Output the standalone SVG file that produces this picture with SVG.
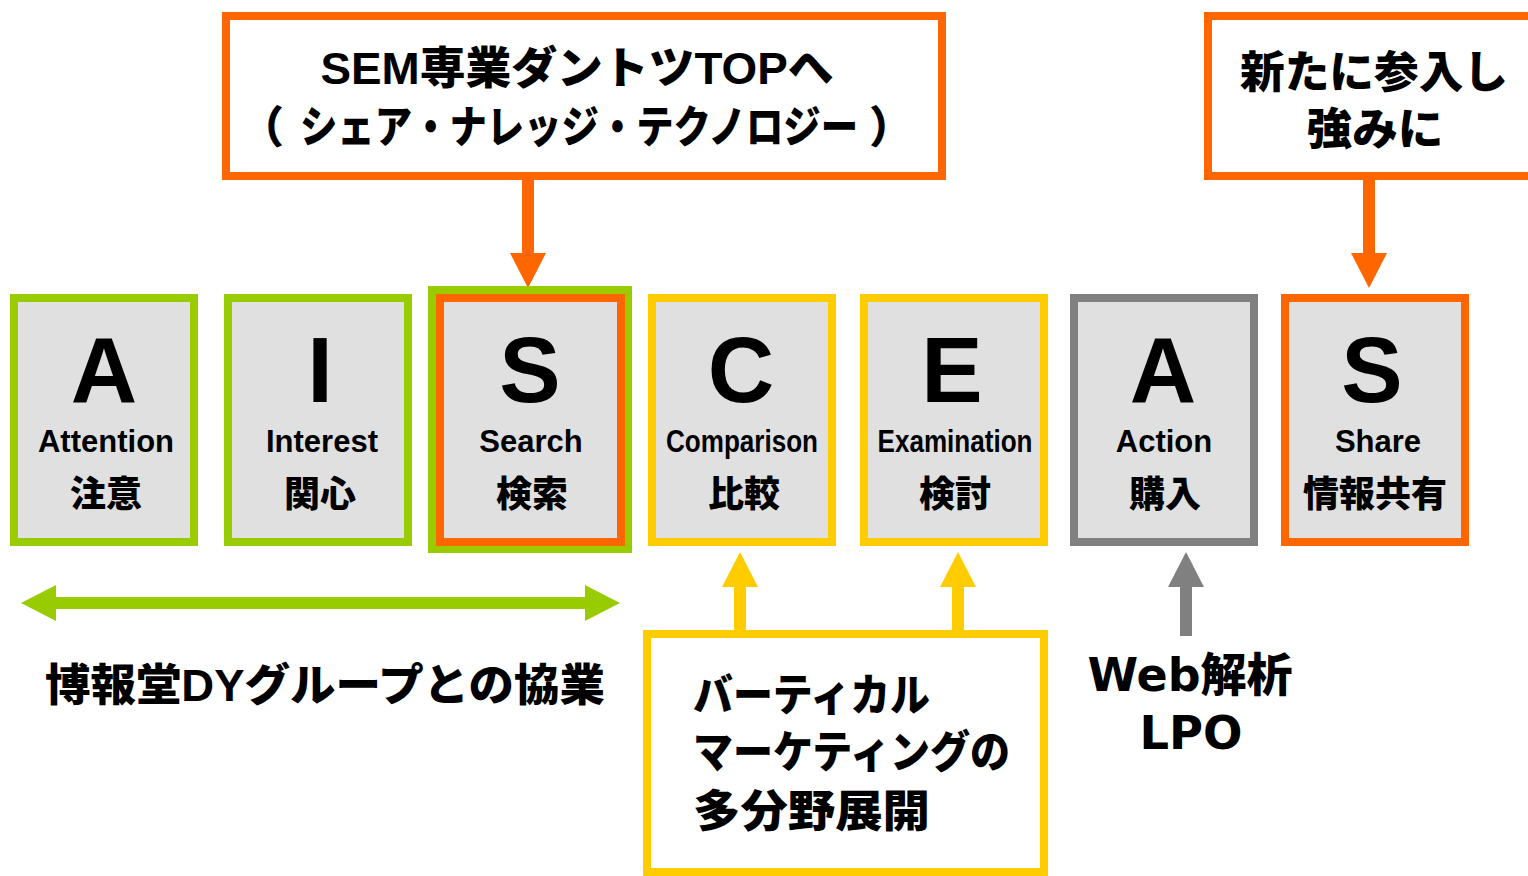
<svg xmlns="http://www.w3.org/2000/svg" width="1528" height="876" viewBox="0 0 1528 876">
<defs>
<style>
.box{fill:#E0E0E0;stroke-width:8}
.g{stroke:#99CC00}.o{stroke:#FF6600}.y{stroke:#FFCC00}.gr{stroke:#808080}
.note{fill:#FFFFFF;stroke-width:8}
.big{font-family:"Liberation Sans",Arial,sans-serif;font-weight:700;font-size:92px;text-anchor:middle;fill:#000}
.en{font-family:"Liberation Sans",Arial,sans-serif;font-weight:700;font-size:31px;text-anchor:middle;fill:#000}
.jp{font-family:"Noto Sans CJK JP",sans-serif;font-weight:900;font-size:36px;text-anchor:middle;fill:#000}
.t{font-family:"Liberation Sans","Noto Sans CJK JP",sans-serif;font-weight:900;font-size:44px;fill:#000}
.mid{text-anchor:middle}
.heavy{font-family:"DejaVu Sans","Noto Sans CJK JP",sans-serif;font-weight:900;font-size:46px;text-anchor:middle;fill:#000}
.c{fill:none;stroke-width:12}
</style>
<marker id="ao" markerUnits="userSpaceOnUse" viewBox="0 -18 35 36" refX="0" refY="0" markerWidth="35" markerHeight="36" orient="auto"><path d="M0,-18L35,0L0,18z" fill="#FF6600"/></marker>
<marker id="ay" markerUnits="userSpaceOnUse" viewBox="0 -18 35 36" refX="0" refY="0" markerWidth="35" markerHeight="36" orient="auto"><path d="M0,-18L35,0L0,18z" fill="#FFCC00"/></marker>
<marker id="agr" markerUnits="userSpaceOnUse" viewBox="0 -18 35 36" refX="0" refY="0" markerWidth="35" markerHeight="36" orient="auto"><path d="M0,-18L35,0L0,18z" fill="#808080"/></marker>
<marker id="ag" markerUnits="userSpaceOnUse" viewBox="0 -18 35 36" refX="0" refY="0" markerWidth="35" markerHeight="36" orient="auto-start-reverse"><path d="M0,-18L35,0L0,18z" fill="#99CC00"/></marker>
</defs>
<rect width="1528" height="876" fill="#FFFFFF"/>

<g id="connectors">
<line class="c" x1="528" y1="180" x2="528" y2="253" stroke="#FF6600" marker-end="url(#ao)"/>
<line class="c" x1="1369" y1="180" x2="1369" y2="253" stroke="#FF6600" marker-end="url(#ao)"/>
<line class="c" x1="56" y1="603" x2="585" y2="603" stroke="#99CC00" marker-start="url(#ag)" marker-end="url(#ag)"/>
<line class="c" x1="740" y1="632" x2="740" y2="587" stroke="#FFCC00" marker-end="url(#ay)"/>
<line class="c" x1="958" y1="632" x2="958" y2="587" stroke="#FFCC00" marker-end="url(#ay)"/>
<line class="c" x1="1186" y1="636" x2="1186" y2="587" stroke="#808080" marker-end="url(#agr)"/>
</g>

<g id="note-sem">
<rect class="note o" x="226" y="16" width="716" height="160"/>
<text class="t mid" x="577" y="84" textLength="513" lengthAdjust="spacingAndGlyphs">SEM専業ダントツTOPへ</text>
<text class="t mid" x="262" y="143">（</text>
<text class="t mid" x="579" y="143" textLength="558" lengthAdjust="spacingAndGlyphs">シェア・ナレッジ・テクノロジー</text>
<text class="t mid" x="891" y="143">）</text>
</g>

<g id="note-share">
<rect class="note o" x="1208" y="16" width="340" height="160"/>
<text class="t mid" x="1374" y="88" textLength="268" lengthAdjust="spacingAndGlyphs">新たに参入し</text>
<text class="t mid" x="1375" y="145" textLength="137" lengthAdjust="spacingAndGlyphs">強みに</text>
</g>

<g id="box-attention">
<rect class="box g" x="14" y="298" width="180" height="244"/>
<text class="big" x="104" y="402">A</text>
<text class="en" x="106" y="452">Attention</text>
<text class="jp" x="106" y="507">注意</text>
</g>

<g id="box-interest">
<rect class="box g" x="228" y="298" width="180" height="244"/>
<text class="big" x="320" y="402">I</text>
<text class="en" x="322" y="452">Interest</text>
<text class="jp" x="320" y="507">関心</text>
</g>

<g id="box-search">
<rect x="432" y="290" width="196" height="259" fill="none" stroke="#99CC00" stroke-width="8"/>
<rect class="box o" x="440" y="298" width="181" height="244"/>
<text class="big" x="530" y="402">S</text>
<text class="en" x="531" y="452">Search</text>
<text class="jp" x="532" y="507">検索</text>
</g>

<g id="box-comparison">
<rect class="box y" x="652" y="298" width="180" height="244"/>
<text class="big" x="741" y="402">C</text>
<text class="en" x="742" y="452" textLength="152" lengthAdjust="spacingAndGlyphs">Comparison</text>
<text class="jp" x="744" y="507">比較</text>
</g>

<g id="box-examination">
<rect class="box y" x="864" y="298" width="180" height="244"/>
<text class="big" x="952" y="402">E</text>
<text class="en" x="955" y="452" textLength="155" lengthAdjust="spacingAndGlyphs">Examination</text>
<text class="jp" x="955" y="507">検討</text>
</g>

<g id="box-action">
<rect class="box gr" x="1074" y="298" width="180" height="244"/>
<text class="big" x="1163" y="402">A</text>
<text class="en" x="1164" y="452">Action</text>
<text class="jp" x="1165" y="507">購入</text>
</g>

<g id="box-share">
<rect class="box o" x="1285" y="298" width="180" height="244"/>
<text class="big" x="1372" y="402">S</text>
<text class="en" x="1378" y="452">Share</text>
<text class="jp" x="1375" y="507">情報共有</text>
</g>

<g id="label-hakuhodo">
<text class="t mid" x="325" y="701" textLength="560" lengthAdjust="spacingAndGlyphs">博報堂DYグループとの協業</text>
</g>

<g id="note-vertical">
<rect class="note y" x="647" y="634" width="397" height="238"/>
<text class="t" x="693" y="711" textLength="237" lengthAdjust="spacingAndGlyphs">バーティカル</text>
<text class="t" x="693" y="768" textLength="317" lengthAdjust="spacingAndGlyphs">マーケティングの</text>
<text class="t" x="693" y="827" textLength="237" lengthAdjust="spacingAndGlyphs">多分野展開</text>
</g>

<g id="label-web">
<text class="heavy" x="1190" y="691" textLength="205" lengthAdjust="spacingAndGlyphs">Web解析</text>
<text class="heavy" x="1191" y="749" textLength="103" lengthAdjust="spacingAndGlyphs">LPO</text>
</g>
</svg>
